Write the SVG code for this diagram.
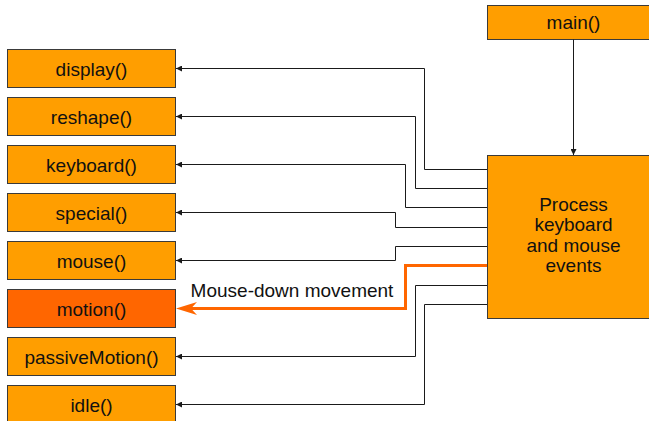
<svg xmlns="http://www.w3.org/2000/svg" width="649" height="421" viewBox="0 0 649 421">
  <style>
    .box { fill: #ff9e00; stroke: #3a3a3a; stroke-width: 1; }
    .hot { fill: #ff6600; }
    .lbl { font-family: "Liberation Sans", Arial, sans-serif; font-size: 19px; fill: #111; text-anchor: middle; }
    .wire { fill: none; stroke: #1a1a1a; stroke-width: 1; }
    .wire-hot { fill: none; stroke: #ff6600; stroke-width: 3; }
  </style>
  <defs>
    <marker id="tip" viewBox="0 0 6 6" refX="6" refY="3" markerWidth="6" markerHeight="6" markerUnits="userSpaceOnUse" orient="auto">
      <path d="M0,0 L6,3 L0,6 Z" fill="#1a1a1a"/>
    </marker>
  </defs>

  <!-- callback boxes on the left -->
  <g id="display"><rect class="box" x="7.5" y="49.5" width="168" height="38"/><text class="lbl" x="91.5" y="75.5">display()</text></g>
  <g id="reshape"><rect class="box" x="7.5" y="97.5" width="168" height="38"/><text class="lbl" x="91.5" y="123.5">reshape()</text></g>
  <g id="keyboard"><rect class="box" x="7.5" y="145.5" width="168" height="38"/><text class="lbl" x="91.5" y="171.5">keyboard()</text></g>
  <g id="special"><rect class="box" x="7.5" y="193.5" width="168" height="38"/><text class="lbl" x="91.5" y="219.5">special()</text></g>
  <g id="mouse"><rect class="box" x="7.5" y="241.5" width="168" height="38"/><text class="lbl" x="91.5" y="267.5">mouse()</text></g>
  <g id="motion"><rect class="box hot" x="7.5" y="289.5" width="168" height="38"/><text class="lbl" x="91.5" y="315.5">motion()</text></g>
  <g id="passiveMotion"><rect class="box" x="7.5" y="337.5" width="168" height="38"/><text class="lbl" x="91.5" y="363.5">passiveMotion()</text></g>
  <g id="idle"><rect class="box" x="7.5" y="385.5" width="168" height="38"/><text class="lbl" x="91.5" y="411.5">idle()</text></g>

  <!-- main and the event loop -->
  <g id="main"><rect class="box" x="487.5" y="5.5" width="172" height="34"/><text class="lbl" x="573.5" y="29">main()</text></g>
  <g id="process">
    <rect class="box" x="487.5" y="155.5" width="172" height="163"/>
    <text class="lbl" x="573.5" y="210.5">Process</text>
    <text class="lbl" x="573.5" y="231">keyboard</text>
    <text class="lbl" x="573.5" y="251.5">and mouse</text>
    <text class="lbl" x="573.5" y="272">events</text>
  </g>

  <!-- connectors -->
  <g id="connectors">
    <path class="wire" marker-end="url(#tip)" d="M573.5,39.5 V155"/>
    <path class="wire" marker-end="url(#tip)" d="M487,169.5 H424.5 V68.5 H176"/>
    <path class="wire" marker-end="url(#tip)" d="M487,188.5 H415.5 V116.5 H176"/>
    <path class="wire" marker-end="url(#tip)" d="M487,207.5 H405.5 V164.5 H176"/>
    <path class="wire" marker-end="url(#tip)" d="M487,227.5 H395.5 V212.5 H176"/>
    <path class="wire" marker-end="url(#tip)" d="M487,246.5 H395.5 V260.5 H176"/>
    <path class="wire-hot" d="M487,265.5 H405.5 V308.5 H190"/>
    <path d="M176,308.5 L197,302 L191,308.5 L197,315 Z" fill="#ff6600"/>
    <path class="wire" marker-end="url(#tip)" d="M487,285.5 H415.5 V356.5 H176"/>
    <path class="wire" marker-end="url(#tip)" d="M487,304.5 H424.5 V404.5 H176"/>
    <text class="lbl" x="292" y="297">Mouse-down movement</text>
  </g>
</svg>
